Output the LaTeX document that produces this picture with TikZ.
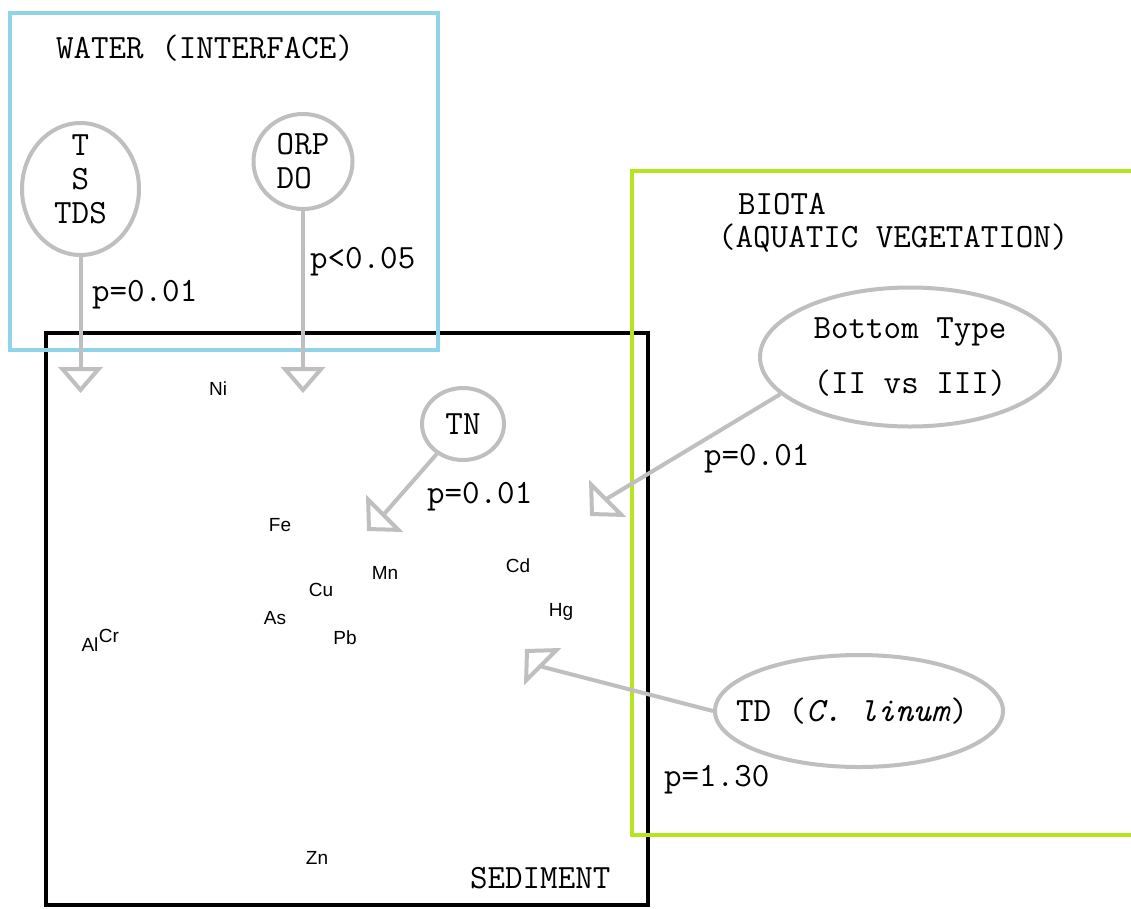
\documentclass[tikz,border=0pt]{standalone}
\usepackage{fontspec}
\newfontfamily\metalfont{Liberation Sans}
\usetikzlibrary{arrows.meta,shapes.geometric}
\definecolor{waterblue}{HTML}{8FD4E8}
\definecolor{biotagreen}{HTML}{B5E61D}
\definecolor{connGray}{HTML}{BFBFBF}
\begin{document}
\begin{tikzpicture}[x=1pt,y=-1pt,
  monotext/.style={font=\ttfamily\fontsize{34}{34}\selectfont, inner sep=0pt},
  bubble/.style={ellipse, draw=connGray, line width=4pt, inner sep=0pt, font=\ttfamily\fontsize{34}{34}\selectfont},
  metal/.style={font=\metalfont\fontsize{19}{21}\selectfont, inner sep=0pt},
  conn/.style={draw=connGray, line width=4pt, -{Triangle[open,length=26pt,width=44pt]}},
  conndiag/.style={draw=connGray, line width=4pt, -{Triangle[open,length=25pt,width=52pt]}},
  regionbox/.style={line width=4pt}]
\useasboundingbox (0,0) rectangle (1131,908);
\fill[white] (0,0) rectangle (1131,908);

% region boxes
\draw[regionbox, draw=black] (46,333) rectangle (648,905);
\draw[regionbox, draw=waterblue] (10,13) rectangle (438,350);
\draw[regionbox, draw=biotagreen] (632,171) rectangle (1150,835);

% region titles
\node[monotext, anchor=base west] (watertitle) at (56,58) {WATER (INTERFACE)};
\node[monotext, anchor=base west] (biotatitle) at (738,214) {BIOTA};
\node[monotext, anchor=base west] (biotasub) at (718,247) {(AQUATIC VEGETATION)};
\node[monotext, anchor=base west] (sedtitle) at (470,888) {SEDIMENT};

% bubbles
\node[bubble, minimum width=117pt, minimum height=132pt] (tsd) at (80.5,189) {};
\node[monotext, align=center] (tsdtext) at (80.5,179) {T\\S\\TDS};
\node[bubble, minimum width=99pt, minimum height=95pt, align=left] (orp) at (303,161.5) {ORP\\DO};
\node[bubble, minimum width=82pt, minimum height=72pt] (tn) at (463,424) {TN};
\node[bubble, minimum width=300pt, minimum height=139pt, align=center] (bottom) at (910,357) {Bottom Type\\[21pt](II vs III)};
\node[bubble, minimum width=288pt, minimum height=112pt] (td) at (859,711) {};
\node[monotext] (tdtext) at (852,711) {TD (\textit{C. linum})};

% arrow tips and backs
\coordinate (tip1) at (80.5,393);
\coordinate (tip2) at (303,393);
\coordinate (back3) at (385,513);
\coordinate (tip3) at (367,531);
\coordinate (back4) at (608,498);
\coordinate (tip4) at (590,516);
\coordinate (back5) at (543,667);
\coordinate (tip5) at (525,649);

% connectors
\draw[conn] (tsd) -- (tip1);
\draw[conn] (orp) -- (tip2);
\draw[conndiag] (tn) -- (back3) -- (tip3);
\draw[conndiag] (bottom.196) -- (back4) -- (tip4);
\draw[conndiag] (td.west) -- (back5) -- (tip5);

% p-values
\node[monotext, anchor=base west] (p1) at (92,301) {p=0.01};
\node[monotext, anchor=base west] (p2) at (310,268) {p<0.05};
\node[monotext, anchor=base west] (p3) at (427,503) {p=0.01};
\node[monotext, anchor=base west] (p4) at (704,465) {p=0.01};
\node[monotext, anchor=base west] (p5) at (664,786) {p=1.30};

% metals
\node[metal] (ni) at (218,389) {Ni};
\node[metal] (fe) at (280,525) {Fe};
\node[metal] (mn) at (385,573) {Mn};
\node[metal] (cd) at (518,566) {Cd};
\node[metal] (cu) at (321,590) {Cu};
\node[metal] (hg) at (561,612) {Hg};
\node[metal] (as) at (275,618) {As};
\node[metal] (pb) at (345,638) {Pb};
\node[metal] (al) at (90,645) {Al};
\node[metal] (cr) at (109,636) {Cr};
\node[metal] (zn) at (317,858) {Zn};
\end{tikzpicture}
\end{document}
